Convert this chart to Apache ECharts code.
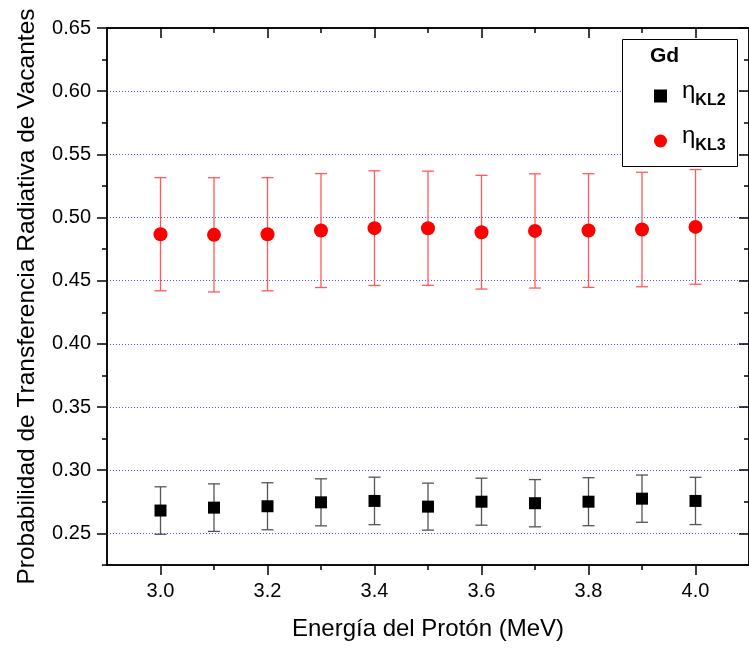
<!DOCTYPE html>
<html><head><meta charset="utf-8">
<script src="https://cdn.jsdelivr.net/npm/echarts@6/dist/echarts.min.js"></script>
<style>html,body{margin:0;padding:0;background:#fff}#c{width:749px;height:648px}</style>
</head><body><div id="c"></div>
<script>
const energies = [3.0, 3.1, 3.2, 3.3, 3.4, 3.5, 3.6, 3.7, 3.8, 3.9, 4.0];
const kl2Values = [0.2681, 0.2704, 0.2715, 0.2746, 0.2757, 0.2712, 0.2751, 0.2739, 0.2751, 0.2775, 0.2757];
const kl2Errors = [0.0188, 0.0188, 0.0186, 0.0186, 0.0188, 0.0186, 0.0186, 0.0187, 0.0190, 0.0187, 0.0187];
const kl3Values = [0.4868, 0.4863, 0.4868, 0.4897, 0.4916, 0.4915, 0.4884, 0.4894, 0.4897, 0.4905, 0.4926];
const kl3Errors = [0.0448, 0.0452, 0.0448, 0.0451, 0.0454, 0.0452, 0.0450, 0.0452, 0.0450, 0.0453, 0.0454];
const xMajorTicks = [3.0, 3.2, 3.4, 3.6, 3.8, 4.0];
const xMinorTicks = [3.1, 3.3, 3.5, 3.7, 3.9];
const yMajorTicks = [0.25, 0.30, 0.35, 0.40, 0.45, 0.50, 0.55, 0.60, 0.65];
const yMinorTicks = [0.225, 0.275, 0.325, 0.375, 0.425, 0.475, 0.525, 0.575, 0.625];
const seriesNames = ['ηKL2', 'ηKL3'];
const legendTitle = 'Gd';
const xTitle = 'Energía del Protón (MeV)';
const yTitle = 'Probabilidad de Transferencia Radiativa de Vacantes';

const FONT = '"Liberation Sans", Arial, sans-serif';
const chart = echarts.init(document.getElementById('c'), null, {renderer: 'canvas'});

function xAxisDef(pos, ticks, len, inside, opts) {
  return Object.assign({
    type: 'value', position: pos, min: 2.9, max: 4.1,
    axisLine: {show: true, onZero: false, lineStyle: {color: '#000', width: 1.5}},
    axisTick: {show: true, inside: inside, length: len, customValues: ticks, lineStyle: {color: '#000', width: 1.5}},
    axisLabel: {show: false},
    splitLine: {show: false}
  }, opts || {});
}
function yAxisDef(pos, ticks, len, inside, opts) {
  return Object.assign({
    type: 'value', position: pos, min: 0.225, max: 0.65,
    axisLine: {show: true, onZero: false, lineStyle: {color: '#000', width: 1.5}},
    axisTick: {show: true, inside: inside, length: len, customValues: ticks, lineStyle: {color: '#000', width: 1.5}},
    axisLabel: {show: false},
    splitLine: {show: false}
  }, opts || {});
}

function errData(vals, errs) {
  return energies.map((e, i) => [e, vals[i] - errs[i], vals[i] + errs[i]]);
}
function errRender(color) {
  return function (params, api) {
    const x = api.value(0);
    const lo = api.coord([x, api.value(1)]);
    const hi = api.coord([x, api.value(2)]);
    const cap = 6;
    const style = {stroke: color, lineWidth: 1.3, fill: null};
    return {type: 'group', children: [
      {type: 'line', shape: {x1: lo[0], y1: lo[1], x2: hi[0], y2: hi[1]}, style: style},
      {type: 'line', shape: {x1: lo[0] - cap, y1: lo[1], x2: lo[0] + cap, y2: lo[1]}, style: style},
      {type: 'line', shape: {x1: hi[0] - cap, y1: hi[1], x2: hi[0] + cap, y2: hi[1]}, style: style}
    ]};
  };
}

const option = {
  backgroundColor: '#fff',
  animation: false,
  grid: {left: 107, top: 28, width: 644, height: 537, containLabel: false},
  xAxis: [
    xAxisDef('bottom', xMajorTicks, 10, false, {
      axisLabel: {show: true, customValues: xMajorTicks, fontFamily: FONT, fontSize: 20, color: '#000', margin: 16,
        formatter: v => v.toFixed(1)},
      name: xTitle, nameLocation: 'middle', nameGap: 52,
      nameTextStyle: {fontFamily: FONT, fontSize: 24, color: '#000'}
    }),
    xAxisDef('bottom', xMinorTicks, 5, false),
    xAxisDef('top', xMajorTicks, 10, true),
    xAxisDef('top', xMinorTicks, 5, true)
  ],
  yAxis: [
    yAxisDef('left', yMajorTicks, 10, false, {
      axisLabel: {show: true, customValues: yMajorTicks, fontFamily: FONT, fontSize: 20, color: '#000', margin: 16,
        formatter: v => v.toFixed(2)},
      splitLine: {show: true, lineStyle: {color: '#4b4bff', width: 1, type: [1, 2]}},
      name: yTitle, nameLocation: 'middle', nameGap: 67, nameRotate: 90,
      nameTextStyle: {fontFamily: FONT, fontSize: 24.5, color: '#000'}
    }),
    yAxisDef('left', yMinorTicks, 5, false),
    yAxisDef('right', yMajorTicks, 10, true),
    yAxisDef('right', yMinorTicks, 5, true)
  ],
  legend: {
    show: true, orient: 'vertical', left: 649, top: 74, itemGap: 15,
    itemWidth: 13, itemHeight: 13, z: 20,
    data: [
      {name: seriesNames[0], icon: 'rect', itemStyle: {color: '#000', opacity: 1}},
      {name: seriesNames[1], icon: 'circle', itemStyle: {color: '#ff0000', opacity: 1}}
    ],
    formatter: function (name) { return '{eta|η}{sub|' + name.slice(1) + '}'; },
    textStyle: {
      fontFamily: FONT, color: '#000', padding: [0, 0, 0, 10],
      rich: {
        eta: {fontFamily: FONT, fontSize: 24, color: '#000', lineHeight: 26, verticalAlign: 'bottom', padding: [0, 0, 6, 0]},
        sub: {fontFamily: FONT, fontSize: 16, fontWeight: 'bold', color: '#000', lineHeight: 26, verticalAlign: 'bottom', padding: [6, 0, 0, 0]}
      }
    },
    selectedMode: false
  },
  graphic: [
    {type: 'rect', z: 10, shape: {x: 622.5, y: 39.5, width: 115, height: 127},
      style: {fill: '#fff', stroke: '#000', lineWidth: 1}},
    {type: 'text', z: 21, x: 650, y: 46,
      style: {text: legendTitle, font: 'bold 21px ' + FONT, fill: '#000'}}
  ],
  series: [
    {type: 'custom', name: seriesNames[0] + ' err', xAxisIndex: 0, yAxisIndex: 0, z: 1,
      renderItem: errRender('#555'), data: errData(kl2Values, kl2Errors), encode: {x: 0, y: [1, 2]}},
    {type: 'custom', name: seriesNames[1] + ' err', xAxisIndex: 0, yAxisIndex: 0, z: 1,
      renderItem: errRender('#ff5a5a'), data: errData(kl3Values, kl3Errors), encode: {x: 0, y: [1, 2]}},
    {type: 'scatter', name: seriesNames[0], xAxisIndex: 0, yAxisIndex: 0, z: 3,
      symbol: 'rect', symbolSize: 12, itemStyle: {color: '#000', opacity: 1},
      data: energies.map((e, i) => [e, kl2Values[i]])},
    {type: 'scatter', name: seriesNames[1], xAxisIndex: 0, yAxisIndex: 0, z: 3,
      symbol: 'circle', symbolSize: 14, itemStyle: {color: '#ff0000', opacity: 1},
      data: energies.map((e, i) => [e, kl3Values[i]])}
  ]
};
chart.setOption(option);
</script></body></html>
